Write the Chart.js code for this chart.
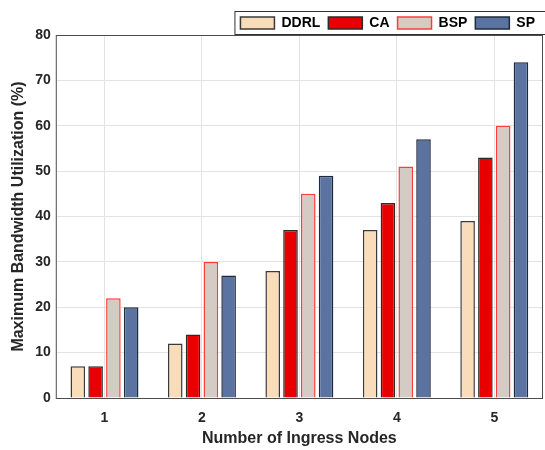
<!DOCTYPE html>
<html>
<head>
<meta charset="utf-8">
<script src="https://cdn.jsdelivr.net/npm/chart.js@4.4.0/dist/chart.umd.min.js"></script>
<style>
  html, body { margin: 0; padding: 0; background: #fff; }
  #wrap { width: 545px; height: 450px; }
</style>
</head>
<body>
<div id="wrap"><canvas id="myChart"></canvas></div>
<script>
// values
var categories = ['1', '2', '3', '4', '5'];
var ddrl = [7, 12, 28, 37, 39];
var ca = [7, 14, 37, 43, 53];
var bsp = [22, 30, 45, 51, 60];
var sp = [20, 27, 49, 57, 74];
var yTicks = [0, 10, 20, 30, 40, 50, 60, 70, 80];

var font = 'Liberation Sans, Arial, Helvetica, sans-serif';

// box around the plot and around the legend, like matlab
var framePlugin = {
    id: 'frame',
    beforeInit: function(chart) {
        // legend sits right on top of the axes, trim its reserved height
        var fit = chart.legend.fit;
        chart.legend.fit = function() {
            fit.call(this);
            this.height -= 5;
        };
    },
    afterDraw: function(chart) {
        var c = chart.ctx, a = chart.chartArea;
        c.save();
        c.strokeStyle = '#4d4d4d';
        c.lineWidth = 1;
        c.strokeRect(a.left + 0.5, a.top + 0.5, a.right - a.left - 1, a.bottom - a.top);
        var boxes = chart.legend.legendHitBoxes;
        if (boxes && boxes.length) {
            var x0 = boxes[0].left - 6;
            var y0 = boxes[0].top - 5;
            var h = boxes[0].height + 9;
            c.strokeStyle = '#333';
            c.strokeRect(x0 + 0.5, y0 + 0.5, chart.width - x0 + 5, h);
        }
        c.restore();
    }
};

var ctx = document.getElementById('myChart');
var myChart = new Chart(ctx, {
    type: 'bar',
    data: {
        labels: categories,
        datasets: [
            { label: 'DDRL', data: ddrl, backgroundColor: '#f9dcb9', borderColor: '#3a3a3a', borderWidth: 1.5 },
            { label: 'CA', data: ca, backgroundColor: '#e80000', borderColor: '#2a2a2a', borderWidth: 1.5 },
            { label: 'BSP', data: bsp, backgroundColor: '#d4ccc4', borderColor: '#ff3c3c', borderWidth: 1.5 },
            { label: 'SP', data: sp, backgroundColor: '#5b73a0', borderColor: '#1f2a3d', borderWidth: 1.5 }
        ]
    },
    options: {
        responsive: true,
        maintainAspectRatio: false,
        animation: false,
        categoryPercentage: 0.73,
        barPercentage: 0.82,
        layout: { padding: { left: 5, right: 2, top: 8, bottom: 0 } },
        plugins: {
            legend: {
                position: 'top',
                align: 'end',
                labels: {
                    boxWidth: 34,
                    boxHeight: 12,
                    padding: 8,
                    color: '#000',
                    font: { family: font, size: 14, weight: 'bold' }
                }
            },
            tooltip: { enabled: false }
        },
        scales: {
            x: {
                grid: { offset: false, color: '#e3e3e3', drawTicks: false },
                border: { display: false },
                afterFit: function(scale) { scale.height -= 10; },
                ticks: { color: '#262626', padding: 12, font: { family: font, size: 14, weight: 'bold' } },
                title: { display: true, text: 'Number of Ingress Nodes', color: '#262626', padding: { top: 0, bottom: 2 },
                         font: { family: font, size: 16, weight: 'bold' } }
            },
            y: {
                min: 0,
                max: 80,
                afterBuildTicks: function(axis) {
                    axis.ticks = yTicks.map(function(v) { return { value: v }; });
                },
                grid: { color: '#e3e3e3', drawTicks: false },
                border: { display: false },
                ticks: { color: '#262626', padding: 5, font: { family: font, size: 14, weight: 'bold' } },
                title: { display: true, text: 'Maximum Bandwidth Utilization (%)', color: '#262626',
                         padding: { top: 4, bottom: 2 },
                         font: { family: font, size: 16, weight: 'bold' } }
            }
        }
    },
    plugins: [framePlugin]
});
</script>
</body>
</html>
